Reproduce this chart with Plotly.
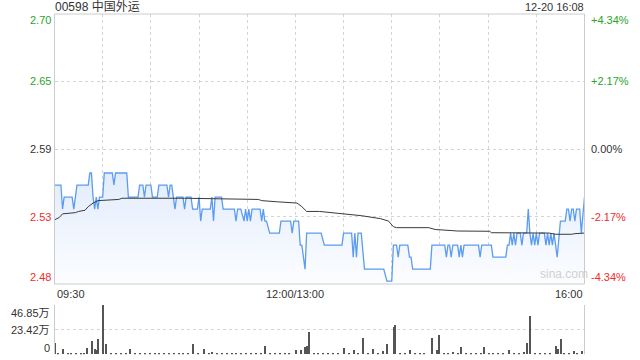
import plotly.graph_objects as go

# ---------------- data ----------------
stock_title = "00598 中国外运"
stamp_text = "12-20 16:08"
prev_close = 2.59
pct_span = 4.34  # percent shown at top / bottom of the axis

price_t = [0, 4, 5, 6, 11, 12, 13, 14, 21, 22, 23, 24, 25, 26, 27, 28, 30, 31, 36, 37, 38, 45, 46, 52, 53, 55,
           56, 57, 60, 61, 64, 65, 70, 71, 72, 73, 74, 75, 76, 80, 81, 82, 85, 86, 89, 90, 91, 92, 97, 98, 99,
           100, 104, 105, 112, 113, 114, 116, 118, 119, 120, 121, 122, 123, 128, 129, 130, 131, 132, 134, 140,
           141, 147, 148, 149, 152, 153, 154, 156, 157, 165, 166, 168, 179, 180, 185, 186, 187, 188, 189, 191,
           193, 205, 207, 210, 211, 213, 214, 215, 220, 221, 222, 223, 234, 235, 243, 244, 245, 246, 247, 248,
           251, 252, 253, 254, 255, 264, 265, 266, 272, 273, 281, 282, 283, 284, 285, 286, 287, 288, 290, 291,
           292, 294, 295, 296, 297, 298, 299, 300, 301, 302, 305, 306, 307, 308, 309, 310, 311, 312, 313, 315,
           318, 319, 320, 321, 322, 323, 324, 325, 327, 328, 330]
price_v = [2.56, 2.56, 2.54, 2.55, 2.55, 2.54, 2.55, 2.56, 2.56, 2.57, 2.57, 2.55, 2.54, 2.55, 2.54, 2.55, 2.55,
           2.57, 2.57, 2.56, 2.57, 2.57, 2.55, 2.55, 2.56, 2.56, 2.55, 2.56, 2.56, 2.55, 2.55, 2.56, 2.56, 2.55,
           2.56, 2.56, 2.55, 2.54, 2.55, 2.55, 2.54, 2.55, 2.55, 2.54, 2.54, 2.55, 2.53, 2.54, 2.54, 2.55, 2.53,
           2.55, 2.55, 2.54, 2.54, 2.53, 2.54, 2.54, 2.53, 2.54, 2.53, 2.54, 2.53, 2.54, 2.54, 2.53, 2.54, 2.53,
           2.53, 2.52, 2.52, 2.53, 2.53, 2.52, 2.53, 2.53, 2.51, 2.51, 2.49, 2.52, 2.52, 2.52, 2.51, 2.51, 2.52,
           2.52, 2.50, 2.52, 2.50, 2.52, 2.52, 2.49, 2.49, 2.48, 2.48, 2.51, 2.51, 2.50, 2.51, 2.51, 2.50, 2.50,
           2.49, 2.49, 2.51, 2.51, 2.50, 2.51, 2.51, 2.50, 2.51, 2.51, 2.50, 2.51, 2.50, 2.51, 2.51, 2.50, 2.51,
           2.51, 2.50, 2.50, 2.51, 2.51, 2.52, 2.51, 2.52, 2.51, 2.52, 2.52, 2.51, 2.52, 2.52, 2.54, 2.52, 2.51,
           2.52, 2.51, 2.52, 2.51, 2.52, 2.52, 2.51, 2.52, 2.51, 2.52, 2.51, 2.52, 2.51, 2.50, 2.53, 2.53, 2.54,
           2.54, 2.53, 2.54, 2.54, 2.53, 2.54, 2.54, 2.52, 2.55]

avg_t = [0, 3, 5, 13, 15, 19, 21, 24, 27, 40, 42, 81, 127, 129, 139, 151, 154, 157, 165, 169, 179, 185, 191,
         203, 208, 211, 213, 233, 237, 248, 251, 271, 272, 308, 312, 322, 324, 330]
avg_v = [2.531, 2.533, 2.536, 2.537, 2.538, 2.539, 2.542, 2.545, 2.547, 2.548, 2.549, 2.549, 2.548, 2.547,
         2.546, 2.545, 2.542, 2.538, 2.538, 2.5375, 2.5365, 2.5356, 2.5345, 2.532, 2.530, 2.5253, 2.5245,
         2.5245, 2.523, 2.522, 2.5217, 2.5215, 2.5203, 2.520, 2.519, 2.519, 2.5195, 2.520]

# volume, in units of 万 shares
vol_t = [0, 2, 5, 8, 10, 13, 16, 18, 20, 23, 25, 26, 27, 30, 32, 35, 38, 41, 44, 47, 50, 53, 56, 59, 62, 65,
         68, 71, 74, 77, 80, 83, 86, 89, 93, 96, 98, 101, 104, 107, 110, 113, 116, 119, 122, 125, 128, 131,
         134, 137, 140, 143, 146, 150, 153, 156, 157, 158, 161, 164, 167, 170, 173, 176, 180, 183, 186, 189,
         192, 195, 198, 201, 204, 207, 211, 212, 215, 218, 221, 224, 227, 230, 235, 238, 239, 242, 245, 248,
         251, 253, 256, 259, 262, 265, 267, 270, 273, 276, 279, 283, 286, 289, 292, 294, 296, 299, 302, 305,
         308, 312, 313, 315, 317, 320, 323, 325, 328, 330]
vol_v = [11.1, 1.2, 5.1, 1.0, 1.3, 1.1, 1.4, 1.0, 5.7, 13.0, 4.8, 4.1, 14.6, 46.85, 9.8, 1.3, 1.0, 1.5, 1.2,
         5.1, 1.1, 1.4, 1.0, 1.3, 1.2, 1.5, 1.0, 1.3, 1.1, 1.4, 1.2, 1.0, 9.8, 1.3, 5.1, 1.2, 2.2, 1.4, 1.1,
         1.3, 1.0, 1.2, 1.4, 1.1, 1.3, 1.0, 1.2, 7.9, 1.3, 1.1, 1.4, 1.0, 1.2, 4.1, 4.1, 7.3, 7.9, 21.5, 1.2,
         1.0, 1.4, 1.1, 1.3, 1.2, 6.3, 1.0, 4.1, 1.3, 15.8, 1.1, 5.4, 1.2, 3.5, 9.8, 26.3, 28.2, 1.4, 1.1, 4.1,
         1.2, 1.0, 1.3, 15.8, 4.1, 18.7, 1.2, 1.4, 2.2, 1.1, 7.3, 1.3, 1.0, 1.2, 1.4, 7.3, 1.1, 1.3, 1.0, 1.2,
         4.1, 1.3, 1.1, 2.2, 10.5, 36.4, 1.6, 1.2, 1.0, 1.4, 7.9, 5.4, 14.6, 1.6, 1.2, 3.2, 1.3, 3.5, 16.5]
vol_max = 46.85
vol_ticks = [46.85, 23.42, 0]
vol_tick_labels = ["46.85万", "23.42万", "0"]

session_minutes = 330
x_labels = ["09:30", "12:00/13:00", "16:00"]
x_label_pos = [0, 150, 330]

# ---------------- derived ----------------
p_hi = prev_close * (1 + pct_span / 100)
p_lo = prev_close * (1 - pct_span / 100)
price_ticks = [p_hi, prev_close * (1 + pct_span / 200), prev_close, prev_close * (1 - pct_span / 200), p_lo]

GREEN = "#2aa52a"
RED = "#f02c2c"
DARK = "#333333"
GRID = "#d4d4d4"
BORDER = "#cccccc"
FONT = "Liberation Sans, Arial, Noto Sans CJK SC, sans-serif"

XD = [54.5 / 640, 584.5 / 640]
Y1 = [(360 - 284) / 360, (360 - 14) / 360]
Y2 = [(360 - 354.3) / 360, (360 - 305) / 360]

fig = go.Figure()

fig.add_trace(go.Scatter(
    x=price_t, y=price_v, mode="lines",
    line=dict(color="#5b9bf0", width=1.3),
    fill="tozeroy",
    fillgradient=dict(type="vertical",
                      colorscale=[[0, "rgba(252,253,255,1)"], [1, "rgba(226,236,252,1)"]],
                      start=p_lo, stop=2.57),
    xaxis="x", yaxis="y", hoverinfo="skip", showlegend=False))

fig.add_trace(go.Scatter(
    x=avg_t, y=avg_v, mode="lines",
    line=dict(color="#3a3a3a", width=1),
    xaxis="x", yaxis="y", hoverinfo="skip", showlegend=False))

fig.add_trace(go.Bar(
    x=vol_t, y=vol_v, width=0.7,
    marker=dict(color="#555555", line=dict(width=0)),
    xaxis="x2", yaxis="y2", hoverinfo="skip", showlegend=False))

grid_x = list(range(30, session_minutes, 30))

fig.update_layout(
    width=640, height=360, autosize=False,
    margin=dict(l=0, r=0, t=0, b=0),
    paper_bgcolor="white", plot_bgcolor="white",
    bargap=0,
    xaxis=dict(domain=XD, range=[0, session_minutes], tickvals=grid_x, showticklabels=False,
               showgrid=True, gridcolor=GRID, griddash="dot", gridwidth=1,
               zeroline=False, showline=False, ticks=""),
    yaxis=dict(domain=Y1, range=[p_lo, p_hi], tickvals=price_ticks[1:4], showticklabels=False,
               showgrid=True, gridcolor=GRID, griddash="dot", gridwidth=1,
               zeroline=False, showline=False, ticks=""),
    xaxis2=dict(domain=XD, range=[0, session_minutes], anchor="y2", showticklabels=False,
                showgrid=False, zeroline=False, showline=False, ticks=""),
    yaxis2=dict(domain=Y2, range=[0, vol_max], anchor="x2", tickvals=vol_ticks[:2], showticklabels=False,
                showgrid=True, gridcolor=GRID, griddash="dot", gridwidth=1,
                zeroline=False, showline=False, ticks=""),
    font=dict(family=FONT, size=11, color=DARK),
)

# borders
fig.add_shape(type="rect", xref="paper", yref="paper", x0=XD[0], x1=XD[1], y0=Y1[0], y1=Y1[1],
              line=dict(color=BORDER, width=1), fillcolor="rgba(0,0,0,0)", layer="above")
for xx in XD:
    fig.add_shape(type="line", xref="paper", yref="paper", x0=xx, x1=xx, y0=Y2[0], y1=Y2[1],
                  line=dict(color=BORDER, width=1), layer="above")

ann = []
# title and timestamp (centred ~7px from the top)
ann.append(dict(text=stock_title, xref="paper", yref="paper", x=XD[0], y=Y1[1], xanchor="left",
                yanchor="middle", yshift=7, xshift=-2, showarrow=False, font=dict(size=12, color=DARK)))
ann.append(dict(text=stamp_text, xref="paper", yref="paper", x=XD[1], y=Y1[1], xanchor="right",
                yanchor="middle", yshift=7, xshift=1, showarrow=False, font=dict(size=11, color=DARK)))

shifts = [-6, 0, 0, 0, 7]
for i, v in enumerate(price_ticks):
    pct = (v / prev_close - 1) * 100
    if pct > 0.001:
        col, ptxt = GREEN, f"+{pct:.2f}%"
    elif pct < -0.001:
        col, ptxt = RED, f"{pct:.2f}%"
    else:
        col, ptxt = DARK, "0.00%"
    ann.append(dict(text=f"{v:.2f}", xref="paper", yref="y", x=XD[0], y=v, xanchor="right",
                    yanchor="middle", xshift=-2, yshift=shifts[i], showarrow=False,
                    font=dict(size=11, color=col)))
    ann.append(dict(text=ptxt, xref="paper", yref="y", x=XD[1], y=v, xanchor="left",
                    yanchor="middle", xshift=4, yshift=shifts[i], showarrow=False,
                    font=dict(size=11, color=col)))

vshifts = [-8, 0, 6]
for v, txt, sh in zip(vol_ticks, vol_tick_labels, vshifts):
    ann.append(dict(text=txt, xref="paper", yref="y2", x=XD[0], y=v, xanchor="right",
                    yanchor="middle", xshift=-3, yshift=sh, showarrow=False,
                    font=dict(size=11, color=DARK)))

anchors = ["left", "center", "right"]
for lab, pos, an in zip(x_labels, x_label_pos, anchors):
    ann.append(dict(text=lab, xref="x", yref="paper", x=pos, y=Y1[0], xanchor=an, yanchor="top",
                    yshift=-2, showarrow=False, font=dict(size=11, color=DARK)))

ann.append(dict(text="sina.com", xref="x", yref="y", x=310, y=p_lo, xanchor="center", yanchor="bottom",
                xshift=12, yshift=1, showarrow=False, font=dict(size=12, color="#d0d0d0")))

fig.update_layout(annotations=ann)

fig.write_html("out.html")
